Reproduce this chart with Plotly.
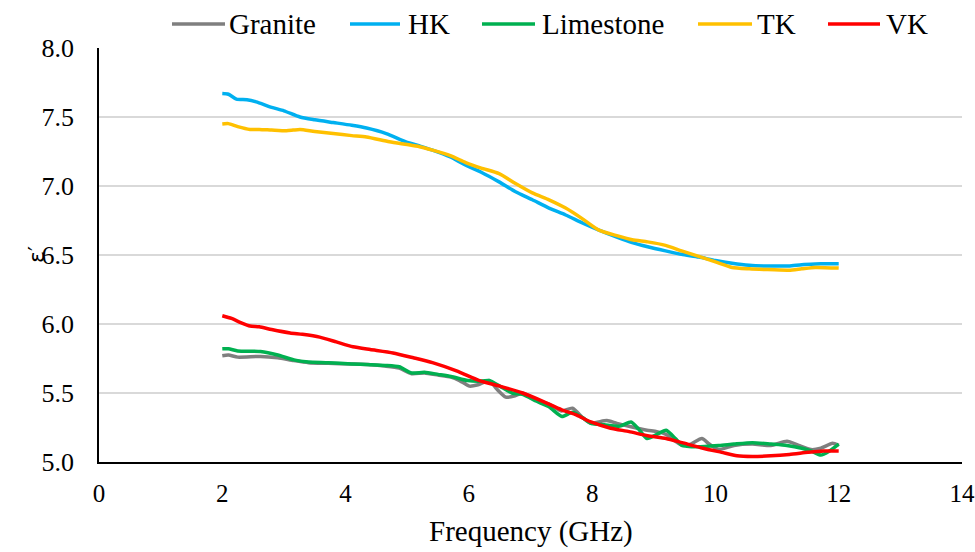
import plotly.graph_objects as go

hk_f = [2.0, 2.1, 2.23, 2.4, 2.55, 2.8, 3.0, 3.26, 3.5, 3.8, 4.1, 4.34, 4.66, 4.98, 5.2, 5.41, 5.7, 5.95, 6.2, 6.49, 6.75, 7.03, 7.3, 7.57, 7.85, 8.11, 8.4, 8.65, 8.9, 9.19, 9.45, 9.73, 10.0, 10.27, 10.55, 10.8, 11.0, 11.19, 11.4, 11.62, 11.8, 12.0]
hk_v = [7.67, 7.665, 7.63, 7.625, 7.61, 7.57, 7.545, 7.50, 7.48, 7.46, 7.44, 7.42, 7.38, 7.32, 7.29, 7.26, 7.21, 7.15, 7.10, 7.03, 6.96, 6.90, 6.84, 6.79, 6.73, 6.68, 6.63, 6.59, 6.56, 6.53, 6.505, 6.485, 6.46, 6.44, 6.425, 6.42, 6.42, 6.42, 6.43, 6.435, 6.437, 6.437]

tk_f = [2.0, 2.1, 2.25, 2.45, 2.6, 2.8, 3.04, 3.15, 3.26, 3.5, 3.8, 4.1, 4.34, 4.71, 5.0, 5.2, 5.41, 5.7, 5.95, 6.2, 6.49, 6.75, 7.03, 7.3, 7.57, 7.85, 8.11, 8.4, 8.65, 8.9, 9.19, 9.45, 9.73, 10.0, 10.27, 10.55, 10.8, 11.19, 11.4, 11.62, 12.0]
tk_v = [7.45, 7.452, 7.43, 7.41, 7.41, 7.405, 7.40, 7.405, 7.41, 7.395, 7.38, 7.365, 7.355, 7.32, 7.30, 7.285, 7.26, 7.22, 7.17, 7.13, 7.09, 7.02, 6.95, 6.90, 6.84, 6.76, 6.68, 6.64, 6.61, 6.595, 6.57, 6.53, 6.49, 6.45, 6.41, 6.40, 6.395, 6.39, 6.40, 6.41, 6.405]

vk_f = [2.0, 2.15, 2.3, 2.45, 2.6, 2.8, 3.1, 3.3, 3.58, 3.85, 4.12, 4.4, 4.77, 5.1, 5.41, 5.8, 6.17, 6.5, 6.87, 7.2, 7.5, 7.75, 7.98, 8.3, 8.6, 8.9, 9.2, 9.46, 9.8, 10.1, 10.35, 10.6, 10.9, 11.2, 11.5, 11.75, 12.0]
vk_v = [6.06, 6.04, 6.01, 5.985, 5.98, 5.96, 5.935, 5.925, 5.905, 5.87, 5.835, 5.815, 5.79, 5.755, 5.72, 5.66, 5.59, 5.55, 5.50, 5.44, 5.38, 5.34, 5.29, 5.245, 5.22, 5.19, 5.17, 5.14, 5.10, 5.07, 5.045, 5.04, 5.045, 5.055, 5.07, 5.08, 5.08]

gr_f = [2.0, 2.1, 2.25, 2.62, 2.9, 3.16, 3.4, 3.72, 4.1, 4.4, 4.64, 4.87, 5.07, 5.28, 5.5, 5.71, 5.85, 6.01, 6.15, 6.33, 6.45, 6.6, 6.75, 6.87, 7.1, 7.3, 7.5, 7.68, 7.85, 7.98, 8.1, 8.24, 8.4, 8.63, 8.89, 9.05, 9.2, 9.46, 9.6, 9.78, 9.9, 10.06, 10.3, 10.6, 10.9, 11.16, 11.35, 11.55, 11.71, 11.9, 12.0]
gr_v = [5.77, 5.775, 5.76, 5.765, 5.755, 5.735, 5.72, 5.715, 5.71, 5.705, 5.695, 5.68, 5.64, 5.645, 5.63, 5.615, 5.59, 5.55, 5.56, 5.59, 5.53, 5.47, 5.48, 5.50, 5.45, 5.42, 5.37, 5.39, 5.32, 5.28, 5.29, 5.30, 5.28, 5.255, 5.23, 5.22, 5.20, 5.12, 5.13, 5.17, 5.13, 5.09, 5.12, 5.13, 5.12, 5.15, 5.12, 5.09, 5.10, 5.135, 5.12]

ls_f = [2.0, 2.1, 2.25, 2.62, 2.9, 3.16, 3.4, 3.72, 4.1, 4.4, 4.64, 4.87, 5.07, 5.28, 5.5, 5.71, 5.98, 6.15, 6.33, 6.5, 6.7, 6.87, 7.1, 7.3, 7.51, 7.68, 7.85, 7.98, 8.2, 8.45, 8.63, 8.75, 8.89, 9.05, 9.2, 9.35, 9.46, 9.7, 10.06, 10.3, 10.6, 10.9, 11.16, 11.4, 11.55, 11.71, 11.85, 12.0]
ls_v = [5.82, 5.82, 5.805, 5.80, 5.775, 5.74, 5.725, 5.72, 5.71, 5.705, 5.70, 5.69, 5.645, 5.65, 5.635, 5.62, 5.59, 5.585, 5.59, 5.55, 5.50, 5.49, 5.44, 5.40, 5.33, 5.36, 5.32, 5.28, 5.27, 5.26, 5.29, 5.24, 5.17, 5.20, 5.23, 5.17, 5.12, 5.11, 5.12, 5.13, 5.14, 5.13, 5.12, 5.10, 5.08, 5.05, 5.08, 5.13]

series = [
    ("Granite", gr_f, gr_v, "#7f7f7f"),
    ("HK", hk_f, hk_v, "#00b0f0"),
    ("Limestone", ls_f, ls_v, "#00b050"),
    ("TK", tk_f, tk_v, "#ffc000"),
    ("VK", vk_f, vk_v, "#ff0000"),
]

x_ticks = [0, 2, 4, 6, 8, 10, 12, 14]
y_ticks = [5.0, 5.5, 6.0, 6.5, 7.0, 7.5, 8.0]
x_title = "Frequency (GHz)"
y_title = "ε′"

# legend layout (pixel positions of the reference legend), styling only
W, H = 975, 552
ML, MR, MT, MB = 99, 13, 48, 90
PW, PH = W - ML - MR, H - MT - MB
legend_line_px = [(172, 225), (350, 400), (482, 535), (698, 752), (828, 880)]
legend_text_px = [227, 406, 540, 755, 884]
legend_y_px = 24

def px_x(p):
    return (p - ML) / PW

def px_y(p):
    return (H - MB - p) / PH

SERIF = "Liberation Serif"

fig = go.Figure()
for name, f, v, c in series:
    fig.add_trace(go.Scatter(x=f, y=v, name=name, mode="lines", showlegend=False,
                             line=dict(color=c, width=3.5, shape="spline", smoothing=0.6)))

for (name, f, v, c), (l0, l1), tx in zip(series, legend_line_px, legend_text_px):
    fig.add_shape(type="line", xref="paper", yref="paper",
                  x0=px_x(l0), x1=px_x(l1), y0=px_y(legend_y_px), y1=px_y(legend_y_px),
                  line=dict(color=c, width=3.5))
    fig.add_annotation(xref="paper", yref="paper", x=px_x(tx), y=px_y(legend_y_px),
                       xanchor="left", yanchor="middle", showarrow=False, text=name,
                       font=dict(family=SERIF, size=29, color="black"))

fig.add_annotation(xref="paper", yref="paper", x=0.5, y=px_y(531), xanchor="center", yanchor="middle",
                   showarrow=False, text=x_title, font=dict(family=SERIF, size=29, color="black"))
fig.add_annotation(xref="paper", yref="paper", x=px_x(36), y=0.5, xanchor="center", yanchor="middle",
                   showarrow=False, text=y_title, textangle=-90,
                   font=dict(family="DejaVu Sans", size=22, color="black"))

fig.update_layout(
    width=W, height=H,
    margin=dict(l=ML, r=MR, t=MT, b=MB, autoexpand=False),
    paper_bgcolor="white", plot_bgcolor="white",
    font=dict(family=SERIF, size=26, color="black"),
    showlegend=False,
    xaxis=dict(range=[0, 14], tickvals=x_ticks, ticktext=[str(t) for t in x_ticks],
               showgrid=False, zeroline=False, showline=True, linecolor="black", linewidth=1.5,
               ticks="", tickfont=dict(family=SERIF, size=25), ticklabelstandoff=8),
    yaxis=dict(range=[5.0, 8.0], tickvals=y_ticks, ticktext=[f"{t:.1f}" for t in y_ticks],
               showgrid=True, gridcolor="#d9d9d9", gridwidth=1.5, zeroline=False,
               showline=True, linecolor="black", linewidth=1.5, ticks="",
               tickfont=dict(family=SERIF, size=26), ticklabelstandoff=18),
)

fig.write_html("out.html")
